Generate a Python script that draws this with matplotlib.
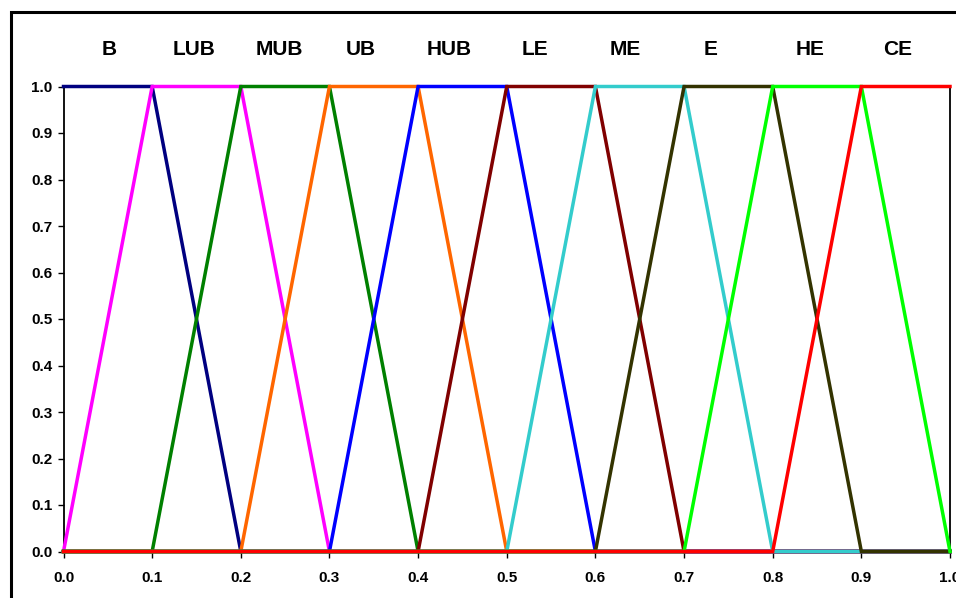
import matplotlib
matplotlib.use("Agg")
import matplotlib.pyplot as plt
from matplotlib.patches import Rectangle

x = [0.0, 0.1, 0.2, 0.3, 0.4, 0.5, 0.6, 0.7, 0.8, 0.9, 1.0]
B   = [1, 1, 0, 0, 0, 0, 0, 0, 0, 0, 0]
LUB = [0, 1, 1, 0, 0, 0, 0, 0, 0, 0, 0]
MUB = [0, 0, 1, 1, 0, 0, 0, 0, 0, 0, 0]
UB  = [0, 0, 0, 1, 1, 0, 0, 0, 0, 0, 0]
HUB = [0, 0, 0, 0, 1, 1, 0, 0, 0, 0, 0]
LE  = [0, 0, 0, 0, 0, 1, 1, 0, 0, 0, 0]
ME  = [0, 0, 0, 0, 0, 0, 1, 1, 0, 0, 0]
E   = [0, 0, 0, 0, 0, 0, 0, 1, 1, 0, 0]
HE  = [0, 0, 0, 0, 0, 0, 0, 0, 1, 1, 0]
CE  = [0, 0, 0, 0, 0, 0, 0, 0, 0, 1, 1]

series_names = ["B", "LUB", "MUB", "UB", "HUB", "LE", "ME", "E", "HE", "CE"]
series_vals = [B, LUB, MUB, UB, HUB, LE, ME, E, HE, CE]
colors = ["#000080", "#FF00FF", "#008000", "#FF6600", "#0000FF",
          "#800000", "#33CCCC", "#333300", "#00FF00", "#FF0000"]
label_x = [0.052, 0.147, 0.244, 0.335, 0.435, 0.532, 0.634, 0.730, 0.842, 0.941]
label_y = 1.08

xticks = [0.0, 0.1, 0.2, 0.3, 0.4, 0.5, 0.6, 0.7, 0.8, 0.9, 1.0]
yticks = [0.0, 0.1, 0.2, 0.3, 0.4, 0.5, 0.6, 0.7, 0.8, 0.9, 1.0]

plt.rcParams['font.family'] = ['Liberation Sans', 'DejaVu Sans']

W, H = 956, 598
fig = plt.figure(figsize=(W/100, H/100), dpi=100)
fig.patches.append(Rectangle((10.5/W, -0.1), 1.2, (1.1 - 12/H),
                             transform=fig.transFigure, fill=False,
                             edgecolor="black", linewidth=2.2))
ax = fig.add_axes([63.5/W, (H-551.5)/H, (950-63.5)/W, (551.5-86.5)/H])

for name, vals, c in zip(series_names, series_vals, colors):
    ax.plot(x, vals, color=c, linewidth=2.5, solid_joinstyle='miter', clip_on=False, zorder=3)

for name, lx in zip(series_names, label_x):
    ax.text(lx, label_y, name, ha='center', va='center', fontsize=15,
            fontweight='bold', transform=ax.transData, clip_on=False)

ax.set_xlim(0, 1)
ax.set_ylim(0, 1)
ax.set_xticks(xticks)
ax.set_xticklabels([f"{v:.1f}" for v in xticks])
ax.set_yticks(yticks)
ax.set_yticklabels([f"{v:.1f}" for v in yticks])
for lab in ax.get_xticklabels() + ax.get_yticklabels():
    lab.set_fontweight('bold')
    lab.set_fontsize(11)
ax.tick_params(direction='out', length=4, width=1, color='black')
ax.tick_params(axis='x', pad=10)
ax.tick_params(axis='y', pad=4)
for s in ax.spines.values():
    s.set_linewidth(1.3)
    s.set_color('black')

fig.savefig("out.png", dpi=100)
